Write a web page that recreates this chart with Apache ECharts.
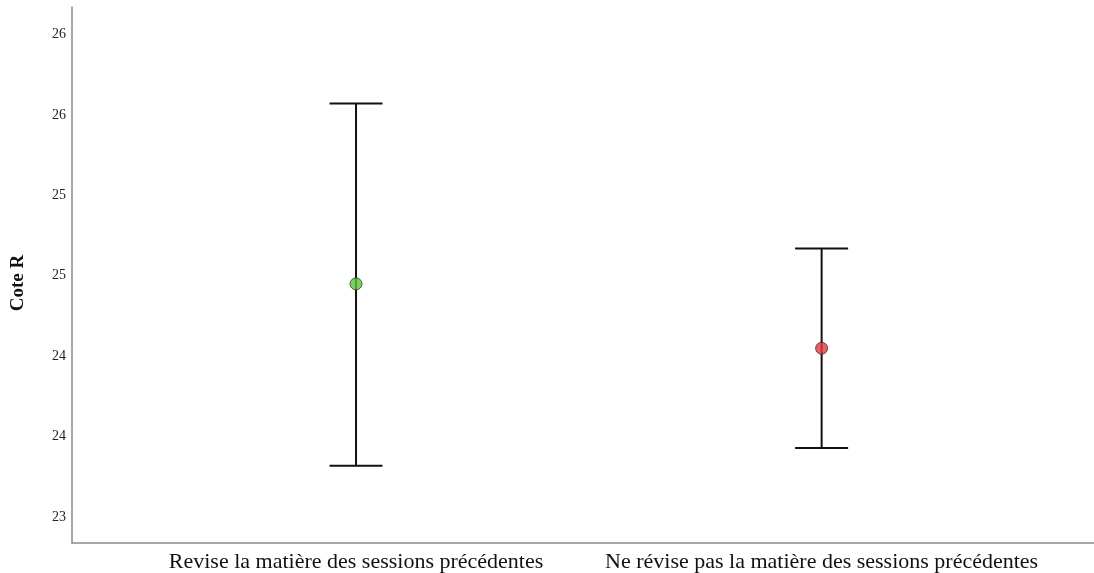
<!DOCTYPE html>
<html>
<head>
<meta charset="utf-8">
<script src="https://cdn.jsdelivr.net/npm/echarts@6/dist/echarts.min.js"></script>
<style>
  html, body { margin: 0; padding: 0; background: #fff; }
  #chart { width: 1094px; height: 573px; }
</style>
</head>
<body>
<div id="chart"></div>
<script>
// Groups and their mean Cote R with the error-bar limits
const categories = [
  'Revise la matière des sessions précédentes',
  'Ne révise pas la matière des sessions précédentes'
];
const means = [24.45, 24.05];
const lowers = [23.32, 23.43];
const uppers = [25.57, 24.67];
const pointColors = ['#5cc33a', '#e6393b'];
const yTicks = [23, 23.5, 24, 24.5, 25, 25.5, 26];

const positions = categories.map((_, i) => i + 1);

const chart = echarts.init(document.getElementById('chart'), null, { renderer: 'canvas' });

const serif = '"Liberation Serif", "DejaVu Serif", serif';

chart.setOption({
  animation: false,
  backgroundColor: '#ffffff',
  grid: { left: 72, right: 0, top: 7, bottom: 30 },
  xAxis: {
    type: 'value',
    min: 0.39,
    max: 2.585,
    splitLine: { show: false },
    axisTick: { show: false },
    axisLine: { show: true, lineStyle: { color: '#8a8a8a', width: 1.5 } },
    axisLabel: {
      customValues: positions,
      formatter: v => categories[Math.round(v) - 1] || '',
      fontFamily: serif,
      fontSize: 22,
      color: '#111',
      margin: 8
    }
  },
  yAxis: {
    type: 'value',
    min: 22.84,
    max: 26.17,
    name: 'Cote R',
    nameLocation: 'middle',
    nameGap: 44,
    nameTextStyle: {
      fontFamily: serif, fontSize: 19, fontWeight: 'bold', color: '#111',
      padding: [0, 16, 0, 0]
    },
    splitLine: { show: false },
    axisTick: { show: false },
    axisLine: { show: true, lineStyle: { color: '#8a8a8a', width: 1.5 } },
    axisLabel: {
      customValues: yTicks,
      formatter: v => String(Math.round(v)),
      fontFamily: serif,
      fontSize: 14,
      color: '#222',
      margin: 6
    }
  },
  series: [
    {
      type: 'custom',
      data: positions.map((x, i) => [x, lowers[i], uppers[i]]),
      renderItem: function (params, api) {
        const x = api.value(0);
        const lo = api.coord([x, api.value(1)]);
        const hi = api.coord([x, api.value(2)]);
        const half = 26.5;
        const style = { stroke: '#111', lineWidth: 2 };
        return {
          type: 'group',
          children: [
            { type: 'line', shape: { x1: lo[0], y1: lo[1], x2: hi[0], y2: hi[1] }, style },
            { type: 'line', shape: { x1: hi[0] - half, y1: hi[1], x2: hi[0] + half, y2: hi[1] }, style },
            { type: 'line', shape: { x1: lo[0] - half, y1: lo[1], x2: lo[0] + half, y2: lo[1] }, style }
          ]
        };
      },
      z: 2
    },
    {
      type: 'scatter',
      data: positions.map((x, i) => ({
        value: [x, means[i]],
        itemStyle: { color: pointColors[i] }
      })),
      symbol: 'circle',
      symbolSize: 12,
      itemStyle: { borderColor: '#333', borderWidth: 1 },
      z: 3
    }
  ]
});
</script>
</body>
</html>
